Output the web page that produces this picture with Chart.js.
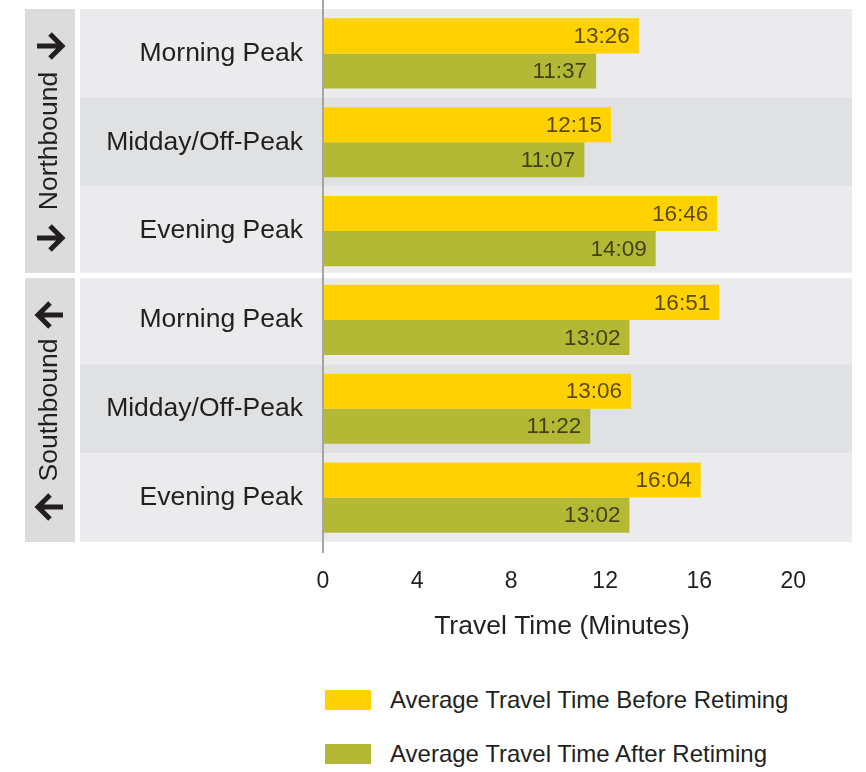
<!DOCTYPE html>
<html>
<head>
<meta charset="utf-8">
<script src="https://cdn.jsdelivr.net/npm/chart.js@4.4.1/dist/chart.umd.min.js"></script>
<style>
	html, body { margin: 0; padding: 0; background: #fff; }
	#wrap { position: relative; width: 866px; height: 772px; }
	#travel { position: absolute; left: 0; top: 0; }
	#legend {
		position: absolute; left: 325px; top: 688px;
		font-family: "Liberation Sans", Arial, sans-serif; font-size: 24px; color: #231f20;
	}
	.item { display: flex; align-items: center; height: 24px; margin-bottom: 30px; white-space: nowrap; }
	.swatch { width: 46px; height: 20px; margin-right: 19px; }
</style>
</head>
<body>
<div id="wrap">
	<canvas id="travel" width="866" height="650"></canvas>
	<div id="legend"></div>
</div>
<script>
const categories = ["Morning Peak", "Midday/Off-Peak", "Evening Peak", "Morning Peak", "Midday/Off-Peak", "Evening Peak"];
const groups = ["Northbound", "Southbound"];
const groupArrows = ["right", "left"];
const beforeRetiming = ["13:26", "12:15", "16:46", "16:51", "13:06", "16:04"];
const afterRetiming = ["11:37", "11:07", "14:09", "13:02", "11:22", "13:02"];
const seriesNames = ["Average Travel Time Before Retiming", "Average Travel Time After Retiming"];
const seriesColors = ["#ffd200", "#b3b835"];
const xTicks = [0, 4, 8, 12, 16, 20];
const xTitle = "Travel Time (Minutes)";

const FONT = '"Liberation Sans", Arial, sans-serif';
const INK = "#231f20";

// "mm:ss" -> minutes
function toMinutes(s) {
	const p = s.split(":");
	return Number(p[0]) + Number(p[1]) / 60;
}

function drawArrow(ctx, cx, cy, dir) {
	const d = dir === "right" ? 1 : -1;
	ctx.beginPath();
	ctx.moveTo(cx - 13 * d, cy);
	ctx.lineTo(cx + 11 * d, cy);
	ctx.moveTo(cx, cy - 12);
	ctx.lineTo(cx + 12 * d, cy);
	ctx.lineTo(cx, cy + 12);
	ctx.stroke();
}

const backdrop = {
	id: "backdrop",
	beforeDraw(chart) {
		const ctx = chart.ctx;
		const area = chart.chartArea;
		const y = chart.scales.y;
		const rowH = (area.bottom - area.top) / categories.length;
		ctx.save();
		categories.forEach((c, i) => {
			ctx.fillStyle = i % 3 === 1 ? "#e0e1e3" : "#ebebed";
			ctx.fillRect(80, y.getPixelForValue(i) - rowH / 2, area.right - 80, rowH);
		});
		groups.forEach((g, gi) => {
			let top = y.getPixelForValue(gi * 3) - rowH / 2;
			let bottom = y.getPixelForValue(gi * 3 + 2) + rowH / 2;
			if (gi > 0) top += 2.5;
			if (gi < groups.length - 1) bottom -= 2.5;
			ctx.fillStyle = "#dcdcdc";
			ctx.fillRect(25, top, 50, bottom - top);
			// white gap between groups
			if (gi < groups.length - 1) {
				ctx.fillStyle = "#ffffff";
				ctx.fillRect(0, bottom, chart.width, 5);
			}
			ctx.fillStyle = INK;
			ctx.strokeStyle = INK;
			ctx.lineWidth = 5;
			drawArrow(ctx, 50, top + 37, groupArrows[gi]);
			drawArrow(ctx, 50, bottom - 35, groupArrows[gi]);
			ctx.save();
			ctx.translate(50, (top + bottom) / 2);
			ctx.rotate(-Math.PI / 2);
			ctx.font = "26.5px " + FONT;
			ctx.textAlign = "center";
			ctx.textBaseline = "middle";
			ctx.fillText(g, 0, 0);
			ctx.restore();
		});
		ctx.restore();
	},
	afterDatasetsDraw(chart) {
		const ctx = chart.ctx;
		ctx.save();
		ctx.font = "22.5px " + FONT;
		ctx.fillStyle = "rgba(0, 0, 0, 0.65)";
		ctx.textAlign = "right";
		ctx.textBaseline = "middle";
		chart.data.datasets.forEach((ds, di) => {
			chart.getDatasetMeta(di).data.forEach((bar, i) => {
				ctx.fillText(ds.raw[i], bar.x - 9, bar.y + 1);
			});
		});
		// zero axis line
		const x0 = chart.scales.x.getPixelForValue(0);
		ctx.strokeStyle = "#a5a5a5";
		ctx.lineWidth = 2;
		ctx.beginPath();
		ctx.moveTo(x0, 0);
		ctx.lineTo(x0, chart.chartArea.bottom + 11);
		ctx.stroke();
		// axis title
		ctx.font = "26.5px " + FONT;
		ctx.fillStyle = INK;
		ctx.textAlign = "center";
		ctx.fillText(xTitle, 562, chart.chartArea.bottom + 85);
		ctx.restore();
	},
};

const ctx = document.getElementById("travel").getContext("2d");

const chart = new Chart(ctx, {
	type: "bar",
	data: {
		labels: categories,
		datasets: [
			{
				label: seriesNames[0],
				raw: beforeRetiming,
				data: beforeRetiming.map(toMinutes),
				backgroundColor: seriesColors[0],
				categoryPercentage: 0.79,
				barPercentage: 1.0,
			},
			{
				label: seriesNames[1],
				raw: afterRetiming,
				data: afterRetiming.map(toMinutes),
				backgroundColor: seriesColors[1],
				categoryPercentage: 0.79,
				barPercentage: 1.0,
			},
		],
	},
	options: {
		indexAxis: "y",
		responsive: false,
		animation: false,
		layout: {
			padding: { top: 9, right: 14, left: 0, bottom: 0 },
		},
		plugins: {
			legend: { display: false },
			tooltip: { enabled: false },
		},
		scales: {
			x: {
				min: 0,
				max: 22.5,
				afterBuildTicks(scale) {
					scale.ticks = xTicks.map((v) => ({ value: v }));
				},
				afterFit(scale) {
					scale.height = 108;
				},
				grid: { display: false, drawTicks: false },
				border: { display: false },
				ticks: {
					padding: 26,
					color: INK,
					font: { size: 23, family: FONT },
				},
			},
			y: {
				afterFit(scale) {
					scale.width = 323;
					scale.paddingTop = 0;
					scale.paddingBottom = 0;
				},
				grid: { display: false, drawTicks: false },
				border: { display: false },
				ticks: {
					padding: 20,
					color: INK,
					font: { size: 26.5, family: FONT },
				},
			},
		},
	},
	plugins: [backdrop],
});

// legend below the chart
const legend = document.getElementById("legend");
chart.data.datasets.forEach((ds) => {
	const item = document.createElement("div");
	item.className = "item";
	const sw = document.createElement("span");
	sw.className = "swatch";
	sw.style.background = ds.backgroundColor;
	const txt = document.createElement("span");
	txt.textContent = ds.label;
	item.appendChild(sw);
	item.appendChild(txt);
	legend.appendChild(item);
});
</script>
</body>
</html>
